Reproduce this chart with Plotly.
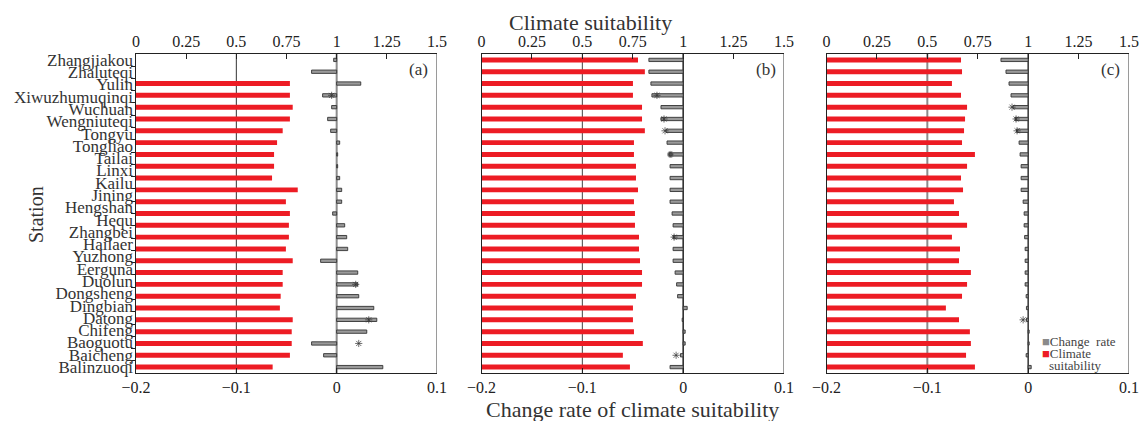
import plotly.graph_objects as go

# ---------------- data ----------------
stations = ["Zhangjiakou", "Zhaluteqi", "Yulin", "Xiwuzhumuqinqi", "Wuchuan", "Wengniuteqi",
            "Tongyu", "Tongliao", "Tailai", "Linxi", "Kailu", "Jining", "Hengshan", "Hequ",
            "Zhangbei", "Hailaer", "Yuzhong", "Eerguna", "Duolun", "Dongsheng", "Dingbian",
            "Datong", "Chifeng", "Baoguotu", "Baicheng", "Balinzuoqi"]
rows = list(range(27))  # bar rows (27 bar positions drawn against 26 station labels)

suit_a = [None, None, 0.767, 0.767, 0.781, 0.767, 0.731, 0.703, 0.688, 0.688, 0.678, 0.806, 0.747,
          0.767, 0.762, 0.762, 0.747, 0.781, 0.731, 0.731, 0.721, 0.717, 0.781, 0.776, 0.776, 0.767, 0.681]
rate_a = [-0.003, -0.025, 0.024, -0.014, -0.005, -0.009, -0.006, 0.003, 0.001, 0.001, 0.003, 0.005, 0.005,
          -0.004, 0.008, 0.010, 0.011, -0.016, 0.021, 0.021, 0.022, 0.037, 0.040, 0.030, -0.025, -0.013, 0.046]

suit_b = [0.776, 0.810, 0.751, 0.751, 0.796, 0.796, 0.810, 0.756, 0.756, 0.766, 0.766, 0.776, 0.756,
          0.761, 0.761, 0.781, 0.781, 0.786, 0.796, 0.796, 0.766, 0.751, 0.751, 0.756, 0.800, 0.701, 0.736]
rate_b = [-0.034, -0.034, -0.032, -0.031, -0.022, -0.022, -0.017, -0.016, -0.014, -0.013, -0.013, -0.013, -0.013,
          -0.011, -0.010, -0.010, -0.010, -0.010, -0.008, -0.0065, -0.0055, 0.004, -0.001, 0.002, 0.002, -0.0027, -0.013]

suit_c = [0.667, 0.672, 0.622, 0.667, 0.697, 0.687, 0.682, 0.672, 0.736, 0.697, 0.667, 0.677, 0.632,
          0.657, 0.697, 0.622, 0.662, 0.657, 0.716, 0.697, 0.672, 0.592, 0.657, 0.711, 0.716, 0.692, 0.736]
rate_c = [-0.027, -0.022, -0.019, -0.017, -0.015, -0.013, -0.0115, -0.009, -0.008, -0.007, -0.007, -0.007, -0.005,
          -0.004, -0.004, -0.0035, -0.003, -0.003, -0.003, -0.003, -0.002, -0.0017, -0.0017, 0.001, 0.001, -0.002, 0.003]

# significance marks (row, position on change-rate axis, kind)
sig_a_rows = [3, 19, 22, 24]
sig_a_x = [-0.005, 0.019, 0.032, 0.022]
sig_a_kind = ["star", "star", "star", "star"]
sig_b_rows = [3, 5, 6, 8, 15, 25]
sig_b_x = [-0.026, -0.019, -0.018, -0.0125, -0.009, -0.007]
sig_b_kind = ["star", "star", "star", "dot", "star", "star"]
sig_c_rows = [4, 5, 6, 22]
sig_c_x = [-0.016, -0.012, -0.011, -0.005]
sig_c_kind = ["star", "star", "star", "star"]

rate_ticks = [-0.2, -0.1, 0, 0.1]
rate_ticktext = ["\u22120.2", "\u22120.1", "0", "0.1"]
suit_ticks = [0, 0.25, 0.5, 0.75, 1, 1.25, 1.5]
suit_ticktext = ["0", "0.25", "0.5", "0.75", "1", "1.25", "1.5"]
panel_names = ["(a)", "(b)", "(c)"]

# ---------------- layout constants ----------------
W, H = 1147, 421
OFF = 8  # page body margin offset
px_left = [136 - OFF, 481.5 - OFF, 826.5 - OFF]
px_right = [437 - OFF, 784 - OFF, 1129 - OFF]
px_top, px_bot = 54 - OFF, 373 - OFF
RED = "#ed1c24"
FONT = "Liberation Serif"
SYMBOLS = {"star": "asterisk-open", "dot": "circle"}

panels = [
    (suit_a, rate_a, sig_a_rows, sig_a_x, sig_a_kind),
    (suit_b, rate_b, sig_b_rows, sig_b_x, sig_b_kind),
    (suit_c, rate_c, sig_c_rows, sig_c_x, sig_c_kind),
]
# reference line styles per panel: (value on change axis, color, width)
vline_styles = [
    [(-0.1, "#333333", 1), (0, "#8c8c8c", 2), (0.1, "#9a9a9a", 2)],
    [(-0.1, "#444444", 1), (0, "#222222", 1.5), (0.1, "#9a9a9a", 2)],
    [(-0.1, "#8c8c8c", 2), (0, "#333333", 1.5), (0.1, "#9a9a9a", 2)],
]

fig = go.Figure()
ydom = [1 - px_bot / H, 1 - px_top / H]
shapes = []
annotations = []

for i, (suit, rate, srows, sx, skind) in enumerate(panels):
    xb = "x%d" % (2 * i + 1) if i > 0 else "x"
    xt = "x%d" % (2 * i + 2)
    yy = "y%d" % (i + 1) if i > 0 else "y"
    fig.add_trace(go.Bar(x=suit, y=rows, orientation="h", xaxis=xt, yaxis=yy,
                         marker=dict(color=RED, line=dict(width=0)), width=0.42,
                         name="Climate suitability", showlegend=False))
    fig.add_trace(go.Bar(x=rate, y=rows, orientation="h", xaxis=xb, yaxis=yy,
                         marker=dict(color="#9a9a9a", line=dict(color="#333333", width=0.9)), width=0.28,
                         name="Change rate", showlegend=False))
    fig.add_trace(go.Scatter(x=sx, y=srows, mode="markers", xaxis=xb, yaxis=yy,
                             marker=dict(symbol=[SYMBOLS[s] for s in skind],
                                         size=[6 if s == "star" else 6 for s in skind],
                                         color="#333333",
                                         line=dict(color="#777777", width=1)),
                             showlegend=False, hoverinfo="skip"))
    dom = [px_left[i] / W, px_right[i] / W]
    lay_b = "xaxis" if i == 0 else "xaxis%d" % (2 * i + 1)
    lay_t = "xaxis%d" % (2 * i + 2)
    lay_y = "yaxis" if i == 0 else "yaxis%d" % (i + 1)
    fig.layout[lay_b] = dict(domain=dom, anchor=yy, range=[-0.2, 0.1], tickvals=rate_ticks,
                             ticktext=rate_ticktext, ticks="inside", ticklen=5, tickcolor="#222",
                             showline=True, linecolor="#222", linewidth=1.2, showgrid=False,
                             zeroline=False, tickfont=dict(family=FONT, size=16, color="#222"))
    fig.layout[lay_t] = dict(overlaying=xb, anchor=yy, side="top", range=[0, 1.5], tickvals=suit_ticks,
                             ticktext=suit_ticktext, ticks="inside", ticklen=5, tickcolor="#222",
                             showline=True, linecolor="#222", linewidth=1.2, showgrid=False,
                             zeroline=False, tickfont=dict(family=FONT, size=16, color="#222"))
    fig.layout[lay_y] = dict(domain=ydom, anchor=xb, range=[26.5, -0.5], showticklabels=False,
                             ticks="", showline=True, linecolor="#222", linewidth=1.2,
                             showgrid=False, zeroline=False)
    for (v, c, w) in vline_styles[i]:
        shapes.append(dict(type="line", xref=xb, yref=yy + " domain", x0=v, x1=v, y0=0, y1=1,
                           line=dict(color=c, width=w), layer="below"))
    annotations.append(dict(text=panel_names[i], xref=xb + " domain", yref=yy + " domain",
                            x=0.94, y=0.95, showarrow=False, xanchor="center", yanchor="middle",
                            font=dict(family=FONT, size=17, color="#333")))

# station label axis (26 labels spread over the 27 bar rows)
n = len(stations)
k = (n - 1) / (len(rows) - 1)
fig.layout["yaxis4"] = dict(overlaying="y", anchor="x", side="left", type="category",
                            categoryorder="array", categoryarray=stations,
                            tickmode="array", tickvals=stations, ticktext=stations,
                            range=[26.5 * k, -0.5 * k], ticks="outside", tickson="boundaries",
                            ticklen=4, tickcolor="#222", ticklabelstandoff=2,
                            showline=False, showgrid=False,
                            zeroline=False, tickfont=dict(family=FONT, size=17, color="#333"))
fig.add_trace(go.Scatter(x=[None] * n, y=stations, xaxis="x", yaxis="y4", mode="markers",
                         showlegend=False, hoverinfo="skip"))

# axis titles
annotations += [
    dict(text="Climate suitability", xref="paper", yref="paper", x=(590 - OFF) / W, y=1,
         showarrow=False, xanchor="center", yanchor="top", font=dict(family=FONT, size=22, color="#333")),
    dict(text="Change rate of climate suitability", xref="paper", yref="paper", x=(632 - OFF) / W,
         y=1 - (409 - OFF) / H, showarrow=False, xanchor="center", yanchor="middle",
         font=dict(family=FONT, size=22, color="#333")),
    dict(text="Station", xref="paper", yref="paper", x=(36 - OFF) / W, y=1 - (215 - OFF) / H, textangle=-90,
         showarrow=False, xanchor="center", yanchor="middle", font=dict(family=FONT, size=20, color="#333")),
    # legend
    dict(text='<span style="color:#8a8a8a">\u25a0</span>Change  rate', xref="paper", yref="paper",
         x=(1040 - OFF) / W, y=1 - (341 - OFF) / H, showarrow=False, xanchor="left", yanchor="middle",
         font=dict(family=FONT, size=13, color="#444")),
    dict(text='<span style="color:%s">\u25a0</span>Climate' % RED, xref="paper", yref="paper",
         x=(1040 - OFF) / W, y=1 - (353 - OFF) / H, showarrow=False, xanchor="left", yanchor="middle",
         font=dict(family=FONT, size=13, color="#444")),
    dict(text="suitability", xref="paper", yref="paper",
         x=(1047 - OFF) / W, y=1 - (365 - OFF) / H, showarrow=False, xanchor="left", yanchor="middle",
         font=dict(family=FONT, size=13, color="#444")),
]

fig.update_layout(width=W, height=H, margin=dict(l=0, r=0, t=0, b=0, autoexpand=False),
                  paper_bgcolor="white", plot_bgcolor="white", barmode="overlay",
                  shapes=shapes, annotations=annotations, showlegend=False)

fig.write_html("out.html")
